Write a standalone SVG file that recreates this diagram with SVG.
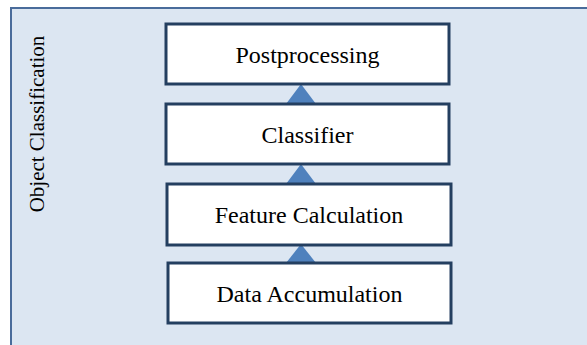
<svg xmlns="http://www.w3.org/2000/svg" width="587" height="345" viewBox="0 0 587 345">
  <style>
    .frame { fill: #dce6f2; stroke: #4a6c9b; stroke-width: 2; }
    .box { fill: #ffffff; stroke: #243f60; stroke-width: 3; }
    .arrow { fill: #4f81bd; }
    .label { font-family: "Liberation Serif", "Times New Roman", serif; font-size: 24px; fill: #000000; text-anchor: middle; }
    .side { font-family: "Liberation Serif", "Times New Roman", serif; font-size: 21px; fill: #000000; text-anchor: middle; }
  </style>

  <!-- outer panel -->
  <g id="panel">
    <rect class="frame" x="11" y="8" width="590" height="350"/>
    <text class="side" transform="translate(44 124) rotate(-90)">Object Classification</text>
  </g>

  <!-- connectors -->
  <g id="connectors">
    <polygon class="arrow" points="301,84 286,104 316,104"/>
    <polygon class="arrow" points="301,164 286,184 316,184"/>
    <polygon class="arrow" points="301,244 286,263 316,263"/>
  </g>

  <g id="postprocessing">
    <rect class="box" x="166" y="24" width="283" height="60"/>
    <text class="label" x="307.5" y="63">Postprocessing</text>
  </g>

  <g id="classifier">
    <rect class="box" x="166" y="104" width="283" height="60"/>
    <text class="label" x="307.5" y="143">Classifier</text>
  </g>

  <g id="feature-calculation">
    <rect class="box" x="167" y="184" width="284" height="61"/>
    <text class="label" x="309" y="223">Feature Calculation</text>
  </g>

  <g id="data-accumulation">
    <rect class="box" x="168" y="263" width="283" height="60"/>
    <text class="label" x="309.5" y="302">Data Accumulation</text>
  </g>
</svg>
